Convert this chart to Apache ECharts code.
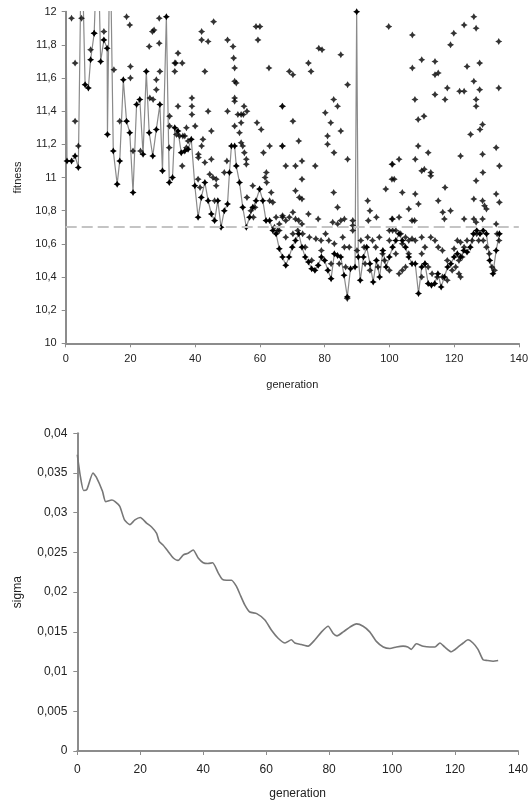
<!DOCTYPE html>
<html><head><meta charset="utf-8">
<script src="https://cdn.jsdelivr.net/npm/echarts@6/dist/echarts.min.js"></script>
<style>html,body{margin:0;padding:0;background:#fff}#c{width:531px;height:805px}</style>
</head><body><div id="c"></div>
<script>
// ---------- DATA ----------
const genTicks = [0, 20, 40, 60, 80, 100, 120, 140];
const fitnessThreshold = 10.7;

// path of the connected (current/best) individual: [generation, fitness]
const bestLine = [
[0,12.4],[0.4,11.10],[1.8,11.10],[2.9,11.13],[3.9,11.06],[4.9,12.5],[6,11.56],[7,11.54],[7.7,11.71],[8.8,11.87],
[9.9,12.5],[10.8,11.70],[11.8,11.83],[12.8,11.78],[12.9,11.26],[13.7,12.5],[14.7,11.16],[15.9,10.96],[16.7,11.10],[17.8,11.59],
[18.8,11.34],[19.8,11.27],[20.8,10.91],[21.9,11.44],[22.9,11.47],[23.9,11.14],[24.9,11.64],[25.8,11.27],[26.9,11.13],[28,11.29],
[29.1,11.44],[29.9,11.04],[31.1,11.97],[32,10.97],[33,11.0],[33.7,11.30],[34.7,11.28],[35.7,11.15],[36.8,11.16],[37.8,11.17],
[38.8,11.23],[39.9,10.95],[40.9,10.76],[41.9,10.88],[43,10.97],[44,10.86],[45,10.78],[46,10.74],[47,10.86],[48,10.70],
[49,10.80],[50,10.84],[50.6,11.03],[51.2,11.19],[52.2,11.19],[52.7,11.07],[53.7,10.97],[54.7,10.82],[55.8,10.70],[56.8,10.76],
[57.8,10.82],[58.8,10.86],[59.9,10.93],[60.9,10.86],[61.9,10.74],[63,10.74],[64,10.68],[65,10.66],[66,10.57],[67,10.52],
[68,10.47],[69,10.52],[70,10.58],[71,10.62],[72,10.66],[73,10.58],[74,10.52],[75,10.49],[76,10.45],[77,10.44],
[78,10.47],[79,10.52],[80,10.50],[81,10.44],[82,10.39],[83,10.54],[84,10.53],[85,10.52],[86,10.41],[87,10.28],
[88,10.45],[89.4,10.46],[89.9,12.0],[90.4,10.52],[91,10.38],[92,10.52],[93,10.58],[94,10.48],[95,10.37],[96,10.50],
[97,10.40],[98,10.56],[99,10.46],[100,10.52],[101,10.58],[102,10.62],[103,10.66],[104,10.62],[105,10.58],[106,10.52],
[107,10.48],[108,10.48],[109,10.30],[110,10.46],[111,10.48],[112,10.36],[113,10.35],[114,10.36],[115,10.42],[116,10.34],
[117,10.40],[118,10.46],[119,10.48],[120,10.52],[121,10.54],[122,10.52],[123,10.56],[124,10.55],[125,10.58],[126,10.66],
[127,10.68],[128,10.66],[129,10.68],[130,10.66],[131,10.50],[132,10.42],[133,10.56],[134,10.66]
];

// other individuals of the population: [generation, fitness]
const population = [
[1.8,11.96],[2.9,11.69],[2.9,11.34],[3.9,11.19],[4.9,11.96],[7.7,11.77],[8.8,11.87],[11.8,11.88],[14.9,11.65],
[16.7,11.34],[18.8,11.97],[19.8,11.92],[20,11.67],[20,11.60],[20.8,11.16],[23.1,11.16],[25.8,11.79],[26,11.48],[27,11.47],
[26.8,11.88],[27.3,11.89],[28,11.53],[28,11.59],[28.9,11.96],[28.9,11.81],[29.1,11.64],[32,11.18],[32.1,11.31],
[32.1,11.37],[33.7,11.69],[33.7,11.64],
[34,11.69],[34.7,11.75],[36,11.69],[34.7,11.43],[34.2,11.26],[35.2,11.25],[36.2,11.25],[37.3,11.30],[37.3,11.18],[36,11.07],
[39,11.48],[39,11.43],[39,11.38],[40,11.31],[41,11.14],[41,11.12],[42,11.88],[42,11.83],[42,11.19],[42.4,11.23],[43,11.64],
[43,11.09],[44,11.82],[44,11.40],[45,11.28],[45,11.11],[45.5,11.0],[46.5,10.99],[45.7,11.94],[46,10.86],[50,11.83],[50,11.40],
[51.7,11.79],[52.2,11.66],[51.9,11.72],[52.2,11.58],[52.7,11.57],[52.2,11.48],[52.2,11.46],[52.2,11.31],[53.2,11.38],
[54.2,11.38],[54.9,11.38],[55.1,11.43],[56,11.40],[54.2,11.33],[53.7,11.27],[54.2,11.21],[54.7,11.19],[55.2,11.15],
[55.8,11.11],[55.8,11.08],[56,10.88],[58.8,11.91],[59.4,11.83],[60,11.91],[59.1,11.33],[60.4,11.29],[61.1,11.15],[62,11.03],
[63,11.19],[62.8,11.66],[63.5,10.91],[66.9,11.43],[66.9,11.19],[57.8,10.95],[61.6,11.0],[62.1,10.97],[63,10.86],[64,10.85],
[65,10.76],[67,10.77],[44.5,11.02],[46.5,10.95],[49,11.03],[49.8,11.10],[40.9,10.99],[41.5,10.94],[57.2,10.80],[58,10.76],
[58.5,10.82],[64.5,10.70],[65.5,10.68],[66,10.72],[36.8,11.25],[37.8,11.22],
[67,11.43],[67,11.19],[68,11.07],[69.1,11.64],[70.2,11.62],[70.2,11.34],[71,11.07],[72,11.22],[73,11.10],[73,10.99],
[71,10.92],[72.2,10.88],[73,10.87],[75,11.69],[75.8,11.64],[77.1,11.07],[78.2,11.78],[79.2,11.77],[80.2,11.39],[80.9,11.25],
[80.9,11.20],[81.9,11.33],[82.8,11.47],[84,11.43],[82.9,11.15],[85,11.74],[85,11.28],[87.1,11.56],[87.1,11.11],[82.8,10.91],
[84,10.82],[67,10.76],[68,10.74],[69.1,10.76],[70.2,10.79],[71,10.75],[72,10.74],[73,10.72],[75,10.78],[78,10.75],
[82.5,10.73],[84,10.72],[85,10.74],[86.1,10.75],[88.7,10.74],[88.7,10.71],[88.7,10.68],[93.3,10.86],[94,10.80],[93.5,10.74],
[96,10.76],[98.9,10.93],[100.8,11.08],[100.8,10.99],[99.8,11.91],[100.8,10.75],[87,10.27],
[66,10.68],[68,10.64],[70.2,10.66],[71.7,10.68],[73.2,10.66],[75.3,10.64],[77.3,10.63],[78.9,10.62],[80.3,10.66],[81.3,10.62],
[83,10.60],[85.6,10.64],[86.1,10.58],[87.6,10.58],[91.2,10.62],[92.2,10.58],[93.3,10.64],[94.8,10.62],[95.8,10.58],
[96.9,10.64],[97.9,10.54],[100,10.62],[101,10.68],[74,10.58],[76,10.50],[79,10.56],[82,10.48],[84.5,10.48],[86.5,10.46],
[90,10.56],[92.5,10.48],[94,10.44],[96.5,10.46],[98.5,10.50],[100,10.44],
[107.1,11.86],[107.1,11.66],[110,11.71],[114.1,11.70],[115.1,11.63],[114.1,11.62],[117.9,11.54],[114.1,11.50],
[117.2,11.47],[107.9,11.47],[108.9,11.35],[110.7,11.37],[118.9,11.80],[119.9,11.87],[123.1,11.92],[126.1,11.97],[126.8,11.90],
[133.8,11.82],[124,11.67],[127.9,11.69],[126.1,11.58],[127.9,11.53],[121.7,11.52],[123.1,11.52],[126.8,11.47],[126.8,11.43],
[133.8,11.54],[125.1,11.26],[128,11.29],[128.8,11.32],[108.9,11.19],[112,11.15],[108,11.11],[101,11.08],[103,11.11],
[101.5,10.99],[110,11.04],[110.8,11.05],[112.8,11.03],[112.8,11.01],[122,11.13],[128.8,11.14],[133,11.18],[134,11.07],
[104,10.91],[108,10.90],[109,10.84],[115.1,10.86],[117.2,10.94],[126.1,10.87],[128.9,11.03],[126.8,10.98],[133,10.90],
[134,10.85],[128.8,10.86],[129.4,10.83],[130,10.81],[106,10.81],[116.5,10.79],[118.9,10.80],[117,10.75],[101,10.75],
[103,10.76],[107,10.74],[107.8,10.74],[123.1,10.75],[126.1,10.75],[126.8,10.73],[128.8,10.75],[133,10.72],
[100,10.68],[102,10.68],[103.5,10.66],[104,10.60],[105,10.64],[106,10.62],[107,10.63],[108,10.62],[110,10.64],[111,10.58],
[112.8,10.64],[114.1,10.62],[115.1,10.58],[116.4,10.56],[120,10.57],[121,10.62],[122,10.61],[123.1,10.58],[124,10.62],
[125.6,10.62],[127,10.66],[127.6,10.62],[129,10.62],[130,10.58],[130.9,10.54],[131.7,10.46],[132.5,10.44],[133.3,10.66],
[133.9,10.62],[110,10.54],[111,10.48],[112,10.46],[113.2,10.42],[114.8,10.40],[116.4,10.40],[117.9,10.50],[119.4,10.44],
[120.5,10.46],[121.5,10.50],[122.5,10.52],[106,10.54],[105,10.46],[104,10.44],[103,10.42],[102,10.54],[110,10.40],
[117.9,10.38],[122,10.40],[121.5,10.42]
];

// mutation step size per generation: [generation, sigma]
const sigmaLine = [
[0,0.0373],[1,0.0345],[2,0.0328],[3,0.0329],[5,0.0350],[6,0.0345],[8,0.0327],[9,0.0314],[11,0.0316],[12,0.0314],
[13.5,0.0308],[15,0.0291],[16.7,0.0285],[18.3,0.0291],[20,0.0294],[22,0.0287],[23.6,0.0282],[25.2,0.0274],[26,0.0264],
[27.3,0.0259],[28.9,0.0251],[30.5,0.0243],[32,0.0240],[33.7,0.0247],[35.2,0.0249],[36.8,0.0253],[38.4,0.0243],[40,0.0237],
[41.5,0.0236],[43,0.0237],[44.8,0.0224],[46.1,0.0216],[47.4,0.0215],[49,0.0215],[50.6,0.0207],[51.6,0.0198],[53.2,0.0184],
[54.8,0.0175],[57,0.0173],[59.6,0.0165],[61.7,0.0152],[63.8,0.0142],[66,0.0136],[68,0.0140],[69.1,0.0136],[71.2,0.0134],
[73.3,0.0132],[75.5,0.0140],[77.6,0.0150],[79.7,0.0157],[81.3,0.0148],[82.5,0.0145],[84.5,0.0150],[86.6,0.0156],
[88.7,0.0160],[90.8,0.0157],[92.9,0.0150],[95,0.0138],[97.2,0.0131],[99.3,0.0129],[101.4,0.0131],[103.5,0.0132],
[105,0.0131],[106.1,0.0128],[107.7,0.0135],[109.9,0.0132],[112,0.0131],[113.6,0.0131],[115.2,0.0136],[116.7,0.0131],
[118.8,0.0125],[121,0.0131],[122.6,0.0136],[124.1,0.0140],[125.7,0.0136],[127.3,0.0128],[128.9,0.0115],[130.2,0.0114],
[132.1,0.0113],[133.7,0.0114]
];

// ---------- CHART ----------
const FONT = 'Liberation Sans, Arial, sans-serif';
const axisGray = '#8c8c8c';
const comma = (v, d) => parseFloat(v.toFixed(d)).toString().replace('.', ',');
const star = 'path://M3,0 L4.1,1.9 L6,3 L4.1,4.1 L3,6 L1.9,4.1 L0,3 L1.9,1.9 Z';

function xAx(idx, gap, margin, fs) {
  return {
    gridIndex: idx, type: 'value', min: 0, max: 140, interval: 20,
    name: 'generation', nameLocation: 'middle', nameGap: gap,
    nameTextStyle: {fontFamily: FONT, fontSize: fs, color: '#222'},
    axisLine: {onZero: false, lineStyle: {color: axisGray, width: 2}},
    axisTick: {show: true, length: 4, lineStyle: {color: axisGray, width: 1}},
    axisLabel: {fontFamily: FONT, fontSize: fs, color: '#222', margin: margin},
    splitLine: {show: false}
  };
}

const chart = echarts.init(document.getElementById('c'), null, {renderer: 'canvas'});
chart.setOption({
  animation: false,
  backgroundColor: '#fff',
  grid: [
    {left: 65.7, top: 11.7, right: 11, bottom: 461.7},
    {left: 77.3, top: 433.3, right: 12.7, bottom: 54}
  ],
  xAxis: [ xAx(0, 36, 10, 11), xAx(1, 37, 13, 12) ],
  yAxis: [
    {gridIndex: 0, type: 'value', min: 10, max: 12, interval: 0.2,
     name: 'fitness', nameLocation: 'middle', nameGap: 42,
     nameTextStyle: {fontFamily: FONT, fontSize: 11, color: '#222'},
     axisLine: {show: true, lineStyle: {color: axisGray, width: 2}},
     axisTick: {show: true, length: 4, lineStyle: {color: axisGray}},
     axisLabel: {fontFamily: FONT, fontSize: 11, color: '#222', margin: 9, formatter: v => comma(v, 1)},
     splitLine: {show: false}},
    {gridIndex: 1, type: 'value', min: 0, max: 0.04, interval: 0.005,
     name: 'sigma', nameLocation: 'middle', nameGap: 54,
     nameTextStyle: {fontFamily: FONT, fontSize: 12, color: '#222'},
     axisLine: {show: true, lineStyle: {color: axisGray, width: 2}},
     axisTick: {show: true, length: 4, lineStyle: {color: axisGray}},
     axisLabel: {fontFamily: FONT, fontSize: 12, color: '#222', margin: 10, formatter: v => comma(v, 4)},
     splitLine: {show: false}}
  ],
  series: [
    {type: 'line', xAxisIndex: 0, yAxisIndex: 0, data: bestLine, clip: true,
     symbol: star, symbolSize: 7, showSymbol: true,
     itemStyle: {color: '#000'}, lineStyle: {color: '#8a8a8a', width: 1.2},
     z: 3,
     markLine: {silent: true, symbol: 'none', label: {show: false},
       lineStyle: {color: '#c4c4c4', width: 2, type: [11, 5]},
       data: [{yAxis: fitnessThreshold}]}},
    {type: 'scatter', xAxisIndex: 0, yAxisIndex: 0, data: population,
     symbol: star, symbolSize: 7, itemStyle: {color: '#000'}, z: 4},
    {type: 'line', xAxisIndex: 1, yAxisIndex: 1, data: sigmaLine,
     showSymbol: false, smooth: 0.2, lineStyle: {color: '#777', width: 1.6}}
  ]
});
</script></body></html>
